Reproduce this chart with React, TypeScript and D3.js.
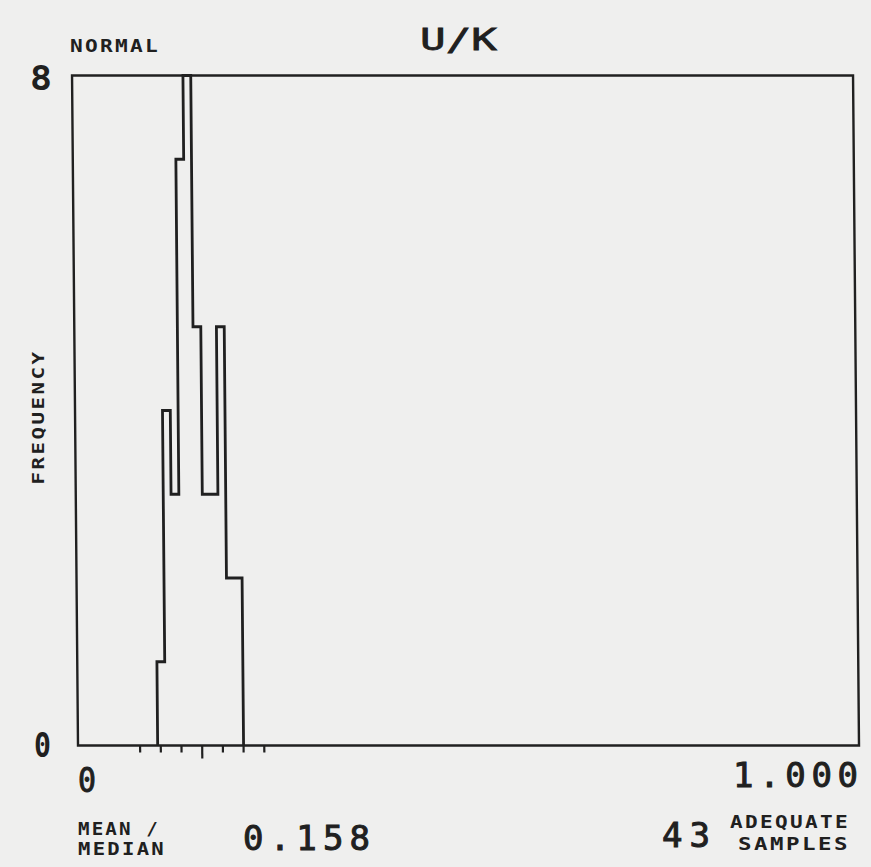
import React from "react";
import * as d3 from "d3";

// ---- data ----
const binStart = 0.102;
const binWidth = 0.01;
const counts = [1, 4, 3, 7, 8, 5, 3, 3, 5, 2, 2];
const meanValue = 0.159;
const sdValue = 0.0265;
const sdTicks = [-3, -2, -1, 0, 1, 2, 3];
const yTickLabels = ["0", "8"];
const xTickLabels = ["0", "1.000"];
const titleText = "U/K";
const distText = "NORMAL";
const yAxisTitle = "FREQUENCY";
const meanLabel = ["MEAN /", "MEDIAN"];
const meanText = "0.158";
const samplesCount = "43";
const samplesLabel = ["ADEQUATE", "SAMPLES"];

const W = 871;
const H = 867;
const M = { left: 78, right: 859, top: 75.5, bottom: 745.5 };
const INK = "#202020";
const FONT = "'DejaVu Sans Mono', monospace";

export default function App() {
  React.useEffect(() => {
    document.body.style.margin = "0";
  }, []);

  const x = d3.scaleLinear().domain([0, 1]).range([M.left, M.right]);
  const y = d3.scaleLinear().domain([0, 8]).range([M.bottom, M.top]);

  const pts: [number, number][] = [[binStart, 0]];
  counts.forEach((c, i) => pts.push([binStart + i * binWidth, c]));
  pts.push([binStart + counts.length * binWidth, 0]);
  const line = d3
    .line<[number, number]>()
    .x((d) => x(d[0]))
    .y((d) => y(d[1]))
    .curve(d3.curveStepAfter);

  const skew = `translate(0,${M.bottom}) skewX(0.51) translate(0,${-M.bottom})`;

  return (
    <svg
      width={W}
      height={H}
      style={{ position: "fixed", left: 0, top: 0, display: "block" }}
    >
      <rect x={0} y={0} width={W} height={H} fill="#efefee" />
      <g transform={skew}>
        <rect
          x={M.left}
          y={M.top}
          width={M.right - M.left}
          height={M.bottom - M.top}
          fill="none"
          stroke={INK}
          strokeWidth={2.4}
        />
        <path d={line(pts) || ""} fill="none" stroke={INK} strokeWidth={2.8} strokeLinejoin="miter" />
        {sdTicks.map((k) => {
          const xv = x(meanValue + k * sdValue);
          return (
            <line
              key={k}
              x1={xv}
              x2={xv}
              y1={M.bottom}
              y2={M.bottom + (k === 0 ? 13 : 7)}
              stroke={INK}
              strokeWidth={2.2}
            />
          );
        })}
      </g>
      <g fill={INK} fontFamily={FONT} fontWeight="bold">
        <text x={420} y={50} fontSize={31} textLength={77} lengthAdjust="spacingAndGlyphs" fontWeight="normal" stroke={INK} strokeWidth={0.8}>
          {titleText}
        </text>
        <text x={70} y={52} fontSize={18.5} textLength={90} lengthAdjust="spacingAndGlyphs" letterSpacing={2}>
          {distText}
        </text>
        <text x={30} y={90} fontSize={34} textLength={22} lengthAdjust="spacingAndGlyphs">
          {yTickLabels[1]}
        </text>
        <text x={34} y={757} fontSize={34} textLength={17} lengthAdjust="spacingAndGlyphs">
          {yTickLabels[0]}
        </text>
        <text
          transform={`translate(44,417) rotate(-90)`}
          textAnchor="middle"
          fontSize={16.5}
          textLength={135}
          lengthAdjust="spacingAndGlyphs"
          letterSpacing={2}
        >
          {yAxisTitle}
        </text>
        <text x={78} y={792} fontSize={34} textLength={18} lengthAdjust="spacingAndGlyphs" fontWeight="normal" stroke={INK} strokeWidth={1}>
          {xTickLabels[0]}
        </text>
        <text x={733} y={787} fontSize={34} textLength={125} lengthAdjust="spacing" fontWeight="normal" stroke={INK} strokeWidth={1}>
          {xTickLabels[1]}
        </text>
        <text x={78} y={835} fontSize={18} textLength={82} lengthAdjust="spacingAndGlyphs" letterSpacing={2}>
          {meanLabel[0]}
        </text>
        <text x={78} y={855} fontSize={18} textLength={88} lengthAdjust="spacingAndGlyphs" letterSpacing={2}>
          {meanLabel[1]}
        </text>
        <text x={243} y={850} fontSize={34} textLength={127} lengthAdjust="spacing" fontWeight="normal" stroke={INK} strokeWidth={1}>
          {meanText}
        </text>
        <text x={662} y={847} fontSize={34} textLength={48} lengthAdjust="spacing" fontWeight="normal" stroke={INK} strokeWidth={1}>
          {samplesCount}
        </text>
        <text x={850} y={828} fontSize={18} textAnchor="end" textLength={120} lengthAdjust="spacingAndGlyphs" letterSpacing={2}>
          {samplesLabel[0]}
        </text>
        <text x={850} y={850} fontSize={18} textAnchor="end" textLength={112} lengthAdjust="spacingAndGlyphs" letterSpacing={2}>
          {samplesLabel[1]}
        </text>
      </g>
    </svg>
  );
}
